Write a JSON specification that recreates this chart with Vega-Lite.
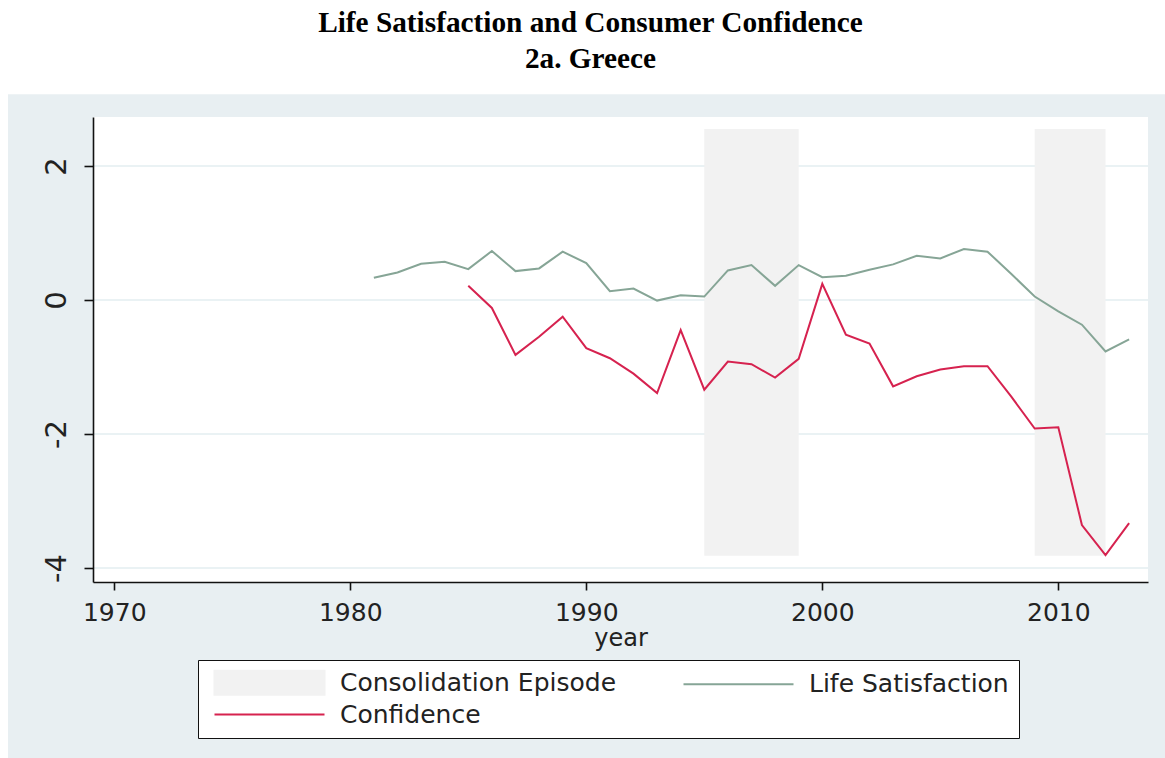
{
  "$schema": "https://vega.github.io/schema/vega-lite/v6.json",
  "width": 1055,
  "height": 465,
  "autosize": {"type": "none"},
  "padding": {"left": 93, "top": 117, "right": 17, "bottom": 176},
  "background": "white",
  "config": {
    "view": {"stroke": null, "fill": null},
    "font": "DejaVu Sans",
    "axis": {
      "grid": false,
      "domainColor": "#111",
      "domainWidth": 1.6,
      "tickColor": "#111",
      "tickWidth": 1.6,
      "tickSize": 8,
      "labelFont": "DejaVu Sans",
      "labelFontSize": 25,
      "labelColor": "#222",
      "titleFont": "DejaVu Sans",
      "titleFontSize": 24,
      "titleFontWeight": "normal",
      "titleColor": "#222"
    }
  },
  "title": {
    "text": ["Life Satisfaction and Consumer Confidence", "2a. Greece"],
    "font": "Liberation Serif",
    "fontSize": 29.3,
    "fontWeight": "bold",
    "color": "black",
    "lineHeight": 36,
    "anchor": "middle",
    "dx": -30,
    "offset": 20,
    "zindex": 1
  },
  "datasets": {
    "series": [
      {"year": 1981, "series": "Life Satisfaction", "value": 0.33},
      {"year": 1982, "series": "Life Satisfaction", "value": 0.41},
      {"year": 1983, "series": "Life Satisfaction", "value": 0.54},
      {"year": 1984, "series": "Life Satisfaction", "value": 0.57},
      {"year": 1985, "series": "Life Satisfaction", "value": 0.46},
      {"year": 1986, "series": "Life Satisfaction", "value": 0.73},
      {"year": 1987, "series": "Life Satisfaction", "value": 0.43},
      {"year": 1988, "series": "Life Satisfaction", "value": 0.47},
      {"year": 1989, "series": "Life Satisfaction", "value": 0.72},
      {"year": 1990, "series": "Life Satisfaction", "value": 0.55},
      {"year": 1991, "series": "Life Satisfaction", "value": 0.13},
      {"year": 1992, "series": "Life Satisfaction", "value": 0.17},
      {"year": 1993, "series": "Life Satisfaction", "value": -0.01},
      {"year": 1994, "series": "Life Satisfaction", "value": 0.07},
      {"year": 1995, "series": "Life Satisfaction", "value": 0.05},
      {"year": 1996, "series": "Life Satisfaction", "value": 0.44},
      {"year": 1997, "series": "Life Satisfaction", "value": 0.52},
      {"year": 1998, "series": "Life Satisfaction", "value": 0.21},
      {"year": 1999, "series": "Life Satisfaction", "value": 0.52},
      {"year": 2000, "series": "Life Satisfaction", "value": 0.34},
      {"year": 2001, "series": "Life Satisfaction", "value": 0.36},
      {"year": 2002, "series": "Life Satisfaction", "value": 0.45},
      {"year": 2003, "series": "Life Satisfaction", "value": 0.53},
      {"year": 2004, "series": "Life Satisfaction", "value": 0.66},
      {"year": 2005, "series": "Life Satisfaction", "value": 0.62},
      {"year": 2006, "series": "Life Satisfaction", "value": 0.76},
      {"year": 2007, "series": "Life Satisfaction", "value": 0.72},
      {"year": 2008, "series": "Life Satisfaction", "value": 0.39},
      {"year": 2009, "series": "Life Satisfaction", "value": 0.05},
      {"year": 2010, "series": "Life Satisfaction", "value": -0.17},
      {"year": 2011, "series": "Life Satisfaction", "value": -0.37},
      {"year": 2012, "series": "Life Satisfaction", "value": -0.77},
      {"year": 2013, "series": "Life Satisfaction", "value": -0.59},
      {"year": 1985, "series": "Confidence", "value": 0.21},
      {"year": 1986, "series": "Confidence", "value": -0.12},
      {"year": 1987, "series": "Confidence", "value": -0.82},
      {"year": 1988, "series": "Confidence", "value": -0.55},
      {"year": 1989, "series": "Confidence", "value": -0.25},
      {"year": 1990, "series": "Confidence", "value": -0.72},
      {"year": 1991, "series": "Confidence", "value": -0.87},
      {"year": 1992, "series": "Confidence", "value": -1.1},
      {"year": 1993, "series": "Confidence", "value": -1.39},
      {"year": 1994, "series": "Confidence", "value": -0.45},
      {"year": 1995, "series": "Confidence", "value": -1.34},
      {"year": 1996, "series": "Confidence", "value": -0.92},
      {"year": 1997, "series": "Confidence", "value": -0.96},
      {"year": 1998, "series": "Confidence", "value": -1.16},
      {"year": 1999, "series": "Confidence", "value": -0.88},
      {"year": 2000, "series": "Confidence", "value": 0.24},
      {"year": 2001, "series": "Confidence", "value": -0.52},
      {"year": 2002, "series": "Confidence", "value": -0.65},
      {"year": 2003, "series": "Confidence", "value": -1.29},
      {"year": 2004, "series": "Confidence", "value": -1.14},
      {"year": 2005, "series": "Confidence", "value": -1.04},
      {"year": 2006, "series": "Confidence", "value": -0.99},
      {"year": 2007, "series": "Confidence", "value": -0.99},
      {"year": 2008, "series": "Confidence", "value": -1.44},
      {"year": 2009, "series": "Confidence", "value": -1.92},
      {"year": 2010, "series": "Confidence", "value": -1.9},
      {"year": 2011, "series": "Confidence", "value": -3.36},
      {"year": 2012, "series": "Confidence", "value": -3.81},
      {"year": 2013, "series": "Confidence", "value": -3.33}
    ],
    "episodes": [
      {"start": 1995, "end": 1999},
      {"start": 2009, "end": 2012}
    ],
    "gridlines": [
      {"level": -4}, {"level": -2}, {"level": 0}, {"level": 2}
    ]
  },
  "layer": [
    {
      "data": {"values": [{}]},
      "mark": {"type": "rect", "color": "#e8eff2"},
      "encoding": {
        "x": {"datum": 1965.5, "type": "quantitative", "scale": {"domain": [1969.1, 2013.8], "nice": false, "zero": false}, "title": "year"},
        "x2": {"datum": 2016},
        "y": {"datum": 3.07, "type": "quantitative", "scale": {"domain": [-4.21, 2.73], "nice": false, "zero": false}, "title": null},
        "y2": {"datum": -8}
      }
    },
    {
      "data": {"values": [{}]},
      "mark": {"type": "rect", "color": "white"},
      "encoding": {
        "x": {"datum": 1969.1, "type": "quantitative", "scale": {"domain": [1969.1, 2013.8], "nice": false, "zero": false}, "title": "year"},
        "x2": {"datum": 2013.8},
        "y": {"datum": 2.73, "type": "quantitative", "scale": {"domain": [-4.21, 2.73], "nice": false, "zero": false}, "title": null},
        "y2": {"datum": -4.21}
      }
    },
    {
      "data": {"name": "gridlines"},
      "mark": {"type": "rule", "color": "#e3eef0", "strokeWidth": 1.5},
      "encoding": {
        "y": {"field": "level", "type": "quantitative", "scale": {"domain": [-4.21, 2.73], "nice": false, "zero": false}, "title": null}
      }
    },
    {
      "data": {"name": "episodes"},
      "mark": {"type": "rect", "color": "#f2f2f2"},
      "encoding": {
        "x": {"field": "start", "type": "quantitative", "scale": {"domain": [1969.1, 2013.8], "nice": false, "zero": false}, "title": "year"},
        "x2": {"field": "end"},
        "y": {"datum": 2.55, "type": "quantitative", "scale": {"domain": [-4.21, 2.73], "nice": false, "zero": false}, "title": null},
        "y2": {"datum": -3.82}
      }
    },
    {
      "data": {"name": "series"},
      "mark": {"type": "line", "strokeWidth": 2},
      "encoding": {
        "x": {
          "field": "year", "type": "quantitative",
          "scale": {"domain": [1969.1, 2013.8], "nice": false, "zero": false},
          "title": "year",
          "axis": {"values": [1970, 1980, 1990, 2000, 2010], "format": "d", "labelFlush": false, "labelPadding": 10, "titlePadding": 1, "zindex": 1}
        },
        "y": {
          "field": "value", "type": "quantitative",
          "scale": {"domain": [-4.21, 2.73], "nice": false, "zero": false},
          "title": null,
          "axis": {"values": [-4, -2, 0, 2], "labelExpr": "'' + datum.value", "labelAngle": 270, "labelFontSize": 29, "tickSize": 9, "labelPadding": 13, "zindex": 1}
        },
        "color": {
          "field": "series", "type": "nominal",
          "scale": {"domain": ["Consolidation Episode", "Life Satisfaction", "Confidence"], "range": ["#f2f2f2", "#86a596", "#d6224f"]},
          "legend": {
            "title": null,
            "orient": "none",
            "legendX": 105,
            "legendY": 543,
            "columns": 2,
            "direction": "horizontal",
            "strokeColor": "#111",
            "fillColor": "white",
            "padding": 10,
            "labelFont": "DejaVu Sans",
            "labelFontSize": 25,
            "labelColor": "#222",
            "labelLimit": 500,
            "labelOffset": 18,
            "columnPadding": 60,
            "rowPadding": 3,
            "symbolSize": 400,
            "symbolStrokeWidth": 2,
            "zindex": 1,
            "encode": {
              "symbols": {
                "update": {
                  "shape": {"signal": "datum.value === 'Consolidation Episode' ? 'M-0.6,-1.2H10.4V1.2H-0.6Z' : 'M-0.6,0H10.4'"},
                  "fill": {"signal": "datum.value === 'Consolidation Episode' ? '#f2f2f2' : 'transparent'"},
                  "stroke": {"signal": "datum.value === 'Consolidation Episode' ? 'transparent' : (datum.value === 'Confidence' ? '#d6224f' : '#86a596')"},
                  "strokeWidth": {"value": 2},
                  "opacity": {"value": 1}
                }
              },
              "labels": {
                "update": {
                  "x": {"value": 132}
                }
              }
            }
          }
        }
      }
    }
  ]
}
